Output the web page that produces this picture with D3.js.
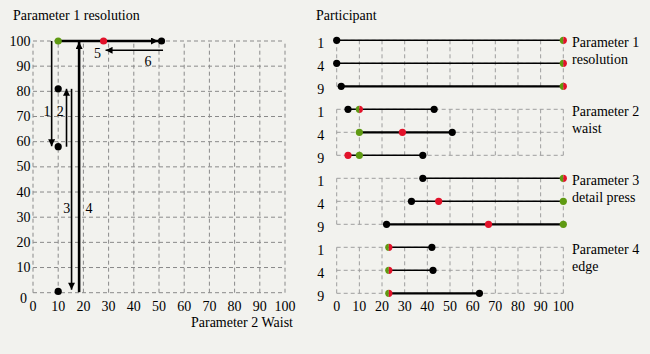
<!DOCTYPE html>
<html>
<head>
<meta charset="utf-8">
<script src="https://cdn.jsdelivr.net/npm/d3@7"></script>
<style>
  body { margin: 0; background: #f2f2ee; }
  svg text { font-family: "Liberation Serif", "Times New Roman", serif; font-size: 14px; fill: #000; }
</style>
</head>
<body>
<div class="canvas"></div>
<script>
// ---- left panel: path of one participant through the parameter space
const leftTicks = [0, 10, 20, 30, 40, 50, 60, 70, 80, 90, 100];
const pathPoints = [
  { x: 10, y: 100, c: "green" },
  { x: 28, y: 100, c: "red" },
  { x: 51, y: 100, c: "black" },
  { x: 10, y: 81, c: "black" },
  { x: 10, y: 58, c: "black" },
  { x: 10, y: 0.5, c: "black" }
];
// arrows: start -> tip, in data units
const arrows = [
  { label: "1", x1: 7.4, y1: 100, x2: 7.4, y2: 58.2, lx: 5.6, ly: 71.8, w: 1.6 },
  { label: "2", x1: 13.3, y1: 58, x2: 13.3, y2: 81, lx: 10.8, ly: 71.8, w: 1.6 },
  { label: "3", x1: 15.3, y1: 81, x2: 15.3, y2: 1.2, lx: 13.4, ly: 33.3, w: 1.6 },
  { label: "4", x1: 18.3, y1: 0.2, x2: 18.3, y2: 99.6, lx: 22.2, ly: 33.3, w: 2.6 },
  { label: "6", x1: 10, y1: 100, x2: 49.6, y2: 100, lx: 45.6, ly: 91.8, w: 2.6 },
  { label: "5", x1: 51.6, y1: 96.3, x2: 28.8, y2: 96.3, lx: 25.6, ly: 95.2, w: 1.6 }
];

// ---- right panel: participant ranges per parameter
const participants = ["1", "4", "9"];
const paramLines = [
  ["Parameter 1", "resolution"],
  ["Parameter 2", "waist"],
  ["Parameter 3", "detail press"],
  ["Parameter 4", "edge"]
];
const rightTicks = [0, 10, 20, 30, 40, 50, 60, 70, 80, 90, 100];
// one entry per parameter, three rows (participants 1, 4, 9)
const segStart = [[0, 0, 2], [5, 10, 5], [38, 33, 22], [23, 23, 23]];
const segEnd = [[100, 100, 100], [43, 51, 38], [100, 100, 100], [42, 42.5, 63]];
const blackDots = [[[0], [0], [2]], [[5, 43], [51], [38]], [[38], [33], [22]], [[42], [42.5], [63]]];
const greenDots = [[[], [], []], [[], [10], [10]], [[], [100], [100]], [[], [], []]];
const redDots = [[[], [], []], [[], [29], [5]], [[], [45], [67]], [[], [], []]];
const splitDots = [[[100], [100], [100]], [[10], [], []], [[100], [], []], [[23], [23], [23]]];
const thickRows = [[2], [1], [2], [2]];

const W = 650, H = 354;
const GREEN = "#5f9a12", RED = "#e2122a", GRID = "#8a8a8a", GRID2 = "#9e9e9e";

const svg = d3.select(".canvas").append("svg").attr("width", W).attr("height", H);

const defs = svg.append("defs");
defs.append("marker")
  .attr("id", "head")
  .attr("markerUnits", "userSpaceOnUse")
  .attr("viewBox", "0 0 10 10")
  .attr("refX", 10).attr("refY", 5)
  .attr("markerWidth", 8).attr("markerHeight", 7)
  .attr("orient", "auto")
  .append("path").attr("d", "M0,0 L10,5 L0,10 Z").attr("fill", "#000");

// ================= left panel
const x = d3.scaleLinear().domain([0, 100]).range([33, 285]);
const y = d3.scaleLinear().domain([0, 100]).range([292.7, 41]);
const left = svg.append("g");

left.append("text").attr("x", 13).attr("y", 20).text("Parameter 1 resolution");

left.append("g").selectAll("line.v").data(leftTicks).join("line")
  .attr("x1", d => x(d)).attr("x2", d => x(d)).attr("y1", y(0)).attr("y2", y(100))
  .attr("stroke", GRID).attr("stroke-width", 1).attr("stroke-dasharray", "4,3");
left.append("g").selectAll("line.h").data(leftTicks).join("line")
  .attr("y1", d => y(d)).attr("y2", d => y(d)).attr("x1", x(0)).attr("x2", x(100))
  .attr("stroke", GRID).attr("stroke-width", 1).attr("stroke-dasharray", "4,3");

left.append("g").selectAll("text").data(leftTicks).join("text")
  .attr("x", d => d === 0 ? 27 : 30.5)
  .attr("y", d => d === 0 ? y(d) + 10.5 : y(d) + 4.5)
  .attr("text-anchor", "end").text(d => d);
left.append("g").selectAll("text").data(leftTicks).join("text")
  .attr("x", d => x(d)).attr("y", 310.5)
  .attr("text-anchor", "middle").text(d => d);
left.append("text").attr("x", 293).attr("y", 327).attr("text-anchor", "end").text("Parameter 2 Waist");

left.append("g").selectAll("line").data(arrows).join("line")
  .attr("x1", d => x(d.x1)).attr("y1", d => y(d.y1))
  .attr("x2", d => x(d.x2)).attr("y2", d => y(d.y2))
  .attr("stroke", "#000").attr("stroke-width", d => d.w)
  .attr("marker-end", "url(#head)");
left.append("g").selectAll("text").data(arrows).join("text")
  .attr("x", d => x(d.lx)).attr("y", d => y(d.ly) + 4.5)
  .attr("text-anchor", "middle").text(d => d.label);

const colorOf = c => c === "green" ? GREEN : c === "red" ? RED : "#000";
left.append("g").selectAll("circle").data(pathPoints).join("circle")
  .attr("cx", d => x(d.x)).attr("cy", d => y(d.y)).attr("r", 3.6)
  .attr("fill", d => colorOf(d.c));

// ================= right panel
const xr = d3.scaleLinear().domain([0, 100]).range([336.7, 563.3]);
const rowKeys = [];
paramLines.forEach((p, g) => participants.forEach((pp, r) => rowKeys.push(g + "-" + r)));
const yr = d3.scalePoint().domain(rowKeys).range([40.3, 293.3]);
const right = svg.append("g");

right.append("text").attr("x", 316).attr("y", 20).text("Participant");

const arc = d3.arc().innerRadius(0).outerRadius(3.6);

paramLines.forEach((lines, g) => {
  const grp = right.append("g");
  const rows = participants.map((p, r) => yr(g + "-" + r));
  const top = rows[0], bottom = rows[2];

  grp.selectAll("line.v").data(rightTicks).join("line")
    .attr("x1", d => xr(d)).attr("x2", d => xr(d)).attr("y1", top).attr("y2", bottom)
    .attr("stroke", GRID2).attr("stroke-dasharray", "4,3");
  grp.selectAll("line.h").data(rows).join("line")
    .attr("x1", xr(0)).attr("x2", xr(100)).attr("y1", d => d).attr("y2", d => d)
    .attr("stroke", GRID2).attr("stroke-dasharray", "4,3");

  grp.selectAll("text.row").data(participants).join("text")
    .attr("x", 320.7).attr("y", (d, r) => rows[r] + 7.5)
    .attr("text-anchor", "middle").text(d => d);

  grp.selectAll("text.lab").data(lines).join("text")
    .attr("x", 572).attr("y", (d, i) => top + 6.5 + i * 17).text(d => d);

  participants.forEach((p, r) => {
    const yy = rows[r];
    grp.append("line")
      .attr("x1", xr(segStart[g][r])).attr("x2", xr(segEnd[g][r]))
      .attr("y1", yy).attr("y2", yy)
      .attr("stroke", "#000").attr("stroke-width", thickRows[g].includes(r) ? 2.2 : 1.6);
    const dots = [
      ...blackDots[g][r].map(v => ({ v, c: "black" })),
      ...greenDots[g][r].map(v => ({ v, c: "green" })),
      ...redDots[g][r].map(v => ({ v, c: "red" }))
    ];
    grp.append("g").selectAll("circle").data(dots).join("circle")
      .attr("cx", d => xr(d.v)).attr("cy", yy).attr("r", 3.6)
      .attr("fill", d => colorOf(d.c));
    splitDots[g][r].forEach(v => {
      const s = grp.append("g").attr("transform", `translate(${xr(v)},${yy})`);
      s.append("path").attr("d", arc({ startAngle: Math.PI, endAngle: 2 * Math.PI })).attr("fill", GREEN);
      s.append("path").attr("d", arc({ startAngle: 0, endAngle: Math.PI })).attr("fill", RED);
    });
  });
});

right.append("g").selectAll("text").data(rightTicks).join("text")
  .attr("x", d => xr(d)).attr("y", 311)
  .attr("text-anchor", "middle").text(d => d);
</script>
</body>
</html>
